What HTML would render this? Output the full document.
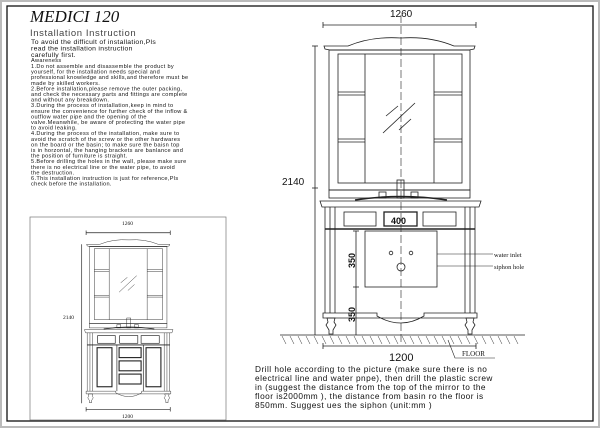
<!DOCTYPE html>
<html><head><meta charset="utf-8"><style>
html,body{margin:0;padding:0;background:#fff}
svg{display:block}
text{font-family:"Liberation Sans",sans-serif;fill:#111}
</style></head><body>
<svg width="600" height="428" viewBox="0 0 600 428" xmlns="http://www.w3.org/2000/svg">
<rect x="0" y="0" width="600" height="428" fill="#fff"/>
<rect x="1" y="1" width="598" height="426" fill="none" stroke="#bbb" stroke-width="2"/>
<rect x="7" y="6" width="586" height="415" fill="none" stroke="#111" stroke-width="1.3"/>

<defs>
<g id="mirror" fill="none" stroke="#222" stroke-width="0.8">
  <path d="M324,46 L348,46 Q372,36 401,38 Q430,36 454,46 L475,46 L474,49 L469,50 L330,50 L325,49 Z"/>
  <line x1="330" y1="50" x2="470" y2="50"/>
  <rect x="329" y="50" width="141" height="140"/>
  <rect x="338" y="54" width="124" height="129"/>
  <line x1="365" y1="54" x2="365" y2="183"/>
  <line x1="434" y1="54" x2="434" y2="183"/>
  <line x1="338" y1="92" x2="365" y2="92"/><line x1="338" y1="95" x2="365" y2="95"/>
  <line x1="434" y1="92" x2="462" y2="92"/><line x1="434" y1="95" x2="462" y2="95"/>
  <line x1="338" y1="139" x2="365" y2="139"/><line x1="338" y1="142" x2="365" y2="142"/>
  <line x1="434" y1="139" x2="462" y2="139"/><line x1="434" y1="142" x2="462" y2="142"/>
  <line x1="383" y1="133" x2="415" y2="103"/>
  <line x1="386" y1="116" x2="398" y2="106"/>
  <line x1="399" y1="130" x2="411" y2="119"/>
  <rect x="329" y="190" width="141" height="8"/>
  <rect x="397" y="180" width="7" height="18"/>
  <rect x="379" y="192" width="7" height="6"/><rect x="411" y="192" width="7" height="6"/>
  <path d="M320,201 L481,201 L479,207 L322,207 Z"/>
  <path d="M355,200 Q401,193 447,200" stroke-width="1.5"/>
  <line x1="325" y1="207" x2="325" y2="313"/><line x1="330" y1="207" x2="330" y2="313"/><line x1="335" y1="207" x2="335" y2="313"/>
  <line x1="465" y1="207" x2="465" y2="313"/><line x1="470" y1="207" x2="470" y2="313"/><line x1="475" y1="207" x2="475" y2="313"/>
  <line x1="325" y1="229" x2="475" y2="229" stroke-width="1.5"/>
  <path d="M323,313 L377,313 L377,316 Q401,330 424,316 L424,313 L477,313 L477,318 L323,318 Z"/>
  <path d="M327,318 L335,318 L334,322 L336,325 L333,330 L333,334 L329,334 L329,330 L326,325 L328,322 Z"/>
  <path d="M466,318 L474,318 L473,322 L475,325 L472,330 L472,334 L468,334 L468,330 L465,325 L467,322 Z"/>
</g>
</defs>

<!-- main drawing -->
<use href="#mirror"/>
<g fill="none" stroke="#222" stroke-width="0.8">
  <rect x="344" y="212" width="32" height="14"/>
  <rect x="384" y="212" width="33" height="14" stroke-width="1.3"/>
  <rect x="423" y="212" width="33" height="14"/>
  <rect x="365" y="231" width="72" height="56"/>
  <circle cx="391" cy="253" r="1.8"/><circle cx="411" cy="253" r="1.8"/>
  <circle cx="401" cy="267" r="4"/>
  <line x1="401" y1="15" x2="401" y2="345" stroke-dasharray="8,3" stroke-width="0.6"/>
  <line x1="323" y1="25" x2="476" y2="25"/><line x1="323" y1="22" x2="323" y2="28"/><line x1="476" y1="22" x2="476" y2="28"/>
  <line x1="315" y1="46" x2="315" y2="335"/><line x1="312" y1="46" x2="318" y2="46"/><line x1="312" y1="188" x2="318" y2="188"/>
  <line x1="356" y1="231" x2="356" y2="335"/><line x1="353" y1="231" x2="359" y2="231"/><line x1="353" y1="287" x2="359" y2="287"/>
  <line x1="437" y1="254" x2="493" y2="254" stroke-width="0.5"/>
  <line x1="437" y1="266" x2="493" y2="266" stroke-width="0.5"/>
  <line x1="280" y1="335" x2="525" y2="335"/>
  <line x1="323" y1="346" x2="476" y2="346"/><line x1="323" y1="343" x2="323" y2="349"/><line x1="476" y1="343" x2="476" y2="349"/>
  <polyline points="448,340 455,358 495,358" stroke-width="0.6"/>
</g>
<g stroke="#333" stroke-width="0.5">
  <path d="M282,336 l4,8 M290,336 l4,8 M298,336 l4,8 M306,336 l4,8 M314,336 l4,8 M322,336 l4,8 M330,336 l4,8 M338,336 l4,8 M346,336 l4,8 M354,336 l4,8 M362,336 l4,8 M370,336 l4,8 M378,336 l4,8 M386,336 l4,8 M394,336 l4,8 M402,336 l4,8 M410,336 l4,8 M418,336 l4,8 M426,336 l4,8 M434,336 l4,8 M442,336 l4,8 M450,336 l4,8 M458,336 l4,8 M466,336 l4,8 M474,336 l4,8 M482,336 l4,8 M490,336 l4,8 M498,336 l4,8 M506,336 l4,8 M514,336 l4,8"/>
</g>
<text x="390" y="17" font-size="10">1260</text>
<text x="282" y="185" font-size="10">2140</text>
<text x="391" y="224" font-size="9" font-weight="bold">400</text>
<text x="389" y="361" font-size="11">1200</text>
<text transform="translate(355,268) rotate(-90)" font-size="9" font-weight="bold">350</text>
<text transform="translate(355,322) rotate(-90)" font-size="9" font-weight="bold">350</text>
<text x="494" y="257" font-size="6.5" style="font-family:'Liberation Serif',serif">water inlet</text>
<text x="494" y="269" font-size="6.5" style="font-family:'Liberation Serif',serif">siphon hole</text>
<text x="462" y="356" font-size="7" style="font-family:'Liberation Serif',serif">FLOOR</text>
<g font-size="8.3" style="letter-spacing:0.46px">
<text x="255" y="372">Drill hole according to the picture (make sure there is no</text>
<text x="255" y="381">electrical line and water pnpe), then drill the plastic screw</text>
<text x="255" y="390">in (suggest the distance from the top of the mirror to the</text>
<text x="255" y="399">floor is2000mm ), the distance from basin ro the floor is</text>
<text x="255" y="408">850mm. Suggest ues the siphon (unit:mm )</text>
</g>

<!-- left text -->
<text x="30" y="22" font-size="17" font-style="italic" style="font-family:'Liberation Serif',serif">MEDICI 120</text>
<text x="30" y="36" font-size="9.5" fill="#444" style="fill:#444;letter-spacing:0.6px">Installation Instruction</text>
<g font-size="6.8" style="letter-spacing:0.3px">
<text x="31" y="44">To avoid the difficult of installation,Pls</text>
<text x="31" y="50.5">read the installation instruction</text>
<text x="31" y="57">carefully first.</text>
</g>
<g font-size="5.6" style="letter-spacing:0.33px">
<text x="31" y="62">Awareness</text>
<text x="31" y="68">1.Do not assemble and disassemble the product by</text>
<text x="31" y="73.6">yourself, for the installation needs special and</text>
<text x="31" y="79.2">professional knowledge and skills,and therefore must be</text>
<text x="31" y="84.8">made by skilled workers.</text>
<text x="31" y="90.4">2.Before installation,please remove the outer packing,</text>
<text x="31" y="96">and check the necessary parts and fittings are complete</text>
<text x="31" y="101.6">and without any breakdown.</text>
<text x="31" y="107.2">3.During the process of installation,keep in mind to</text>
<text x="31" y="112.8">ensure the convenience for further check of the inflow &amp;</text>
<text x="31" y="118.4">outflow water pipe and the opening of the</text>
<text x="31" y="124">valve.Meanwhile, be aware of protecting the water pipe</text>
<text x="31" y="129.6">to avoid leaking.</text>
<text x="31" y="135.2">4.During the process of the installation, make sure to</text>
<text x="31" y="140.8">avoid the scratch of the screw or the other hardwares</text>
<text x="31" y="146.4">on the board or the basin; to make sure the baisn top</text>
<text x="31" y="152">is in horzontal, the hanging brackets are banlance and</text>
<text x="31" y="157.6">the position of furniture is straight.</text>
<text x="31" y="163.2">5.Before drilling the holes in the wall, please make sure</text>
<text x="31" y="168.8">there is no electrical line or the water pipe, to avoid</text>
<text x="31" y="174.4">the destruction.</text>
<text x="31" y="180">6.This installation instruction is just for reference,Pls</text>
<text x="31" y="185.6">check before the installation.</text>
</g>

<!-- small drawing -->
<rect x="30" y="217" width="196" height="203" fill="none" stroke="#777" stroke-width="0.7"/>
<g transform="translate(-91.55,219) scale(0.55)">
  <use href="#mirror"/>
  <g fill="none" stroke="#222" stroke-width="1.2">
    <rect x="344" y="212" width="32" height="14"/>
    <rect x="384" y="212" width="33" height="14"/>
    <rect x="423" y="212" width="33" height="14"/>
    <rect x="343" y="234" width="27" height="71" stroke-width="2"/>
    <rect x="432" y="234" width="27" height="71" stroke-width="2"/>
    <rect x="383" y="234" width="40" height="18" stroke-width="2"/>
    <rect x="383" y="258" width="40" height="18" stroke-width="2"/>
    <rect x="383" y="282" width="40" height="18" stroke-width="2"/>
    <line x1="379" y1="229" x2="379" y2="313"/><line x1="427" y1="229" x2="427" y2="313"/>
    <line x1="323" y1="25" x2="476" y2="25"/><line x1="323" y1="21" x2="323" y2="29"/><line x1="476" y1="21" x2="476" y2="29"/>
    <line x1="315" y1="46" x2="315" y2="335"/>
    <line x1="323" y1="346" x2="476" y2="346"/><line x1="323" y1="342" x2="323" y2="350"/><line x1="476" y1="342" x2="476" y2="350"/>
  </g>
</g>
<text x="122" y="225" font-size="5.5" style="font-family:'Liberation Serif',serif">1260</text>
<text x="63" y="319" font-size="5.5" style="font-family:'Liberation Serif',serif">2140</text>
<text x="122" y="418" font-size="5.5" style="font-family:'Liberation Serif',serif">1200</text>
</svg>
</body></html>
